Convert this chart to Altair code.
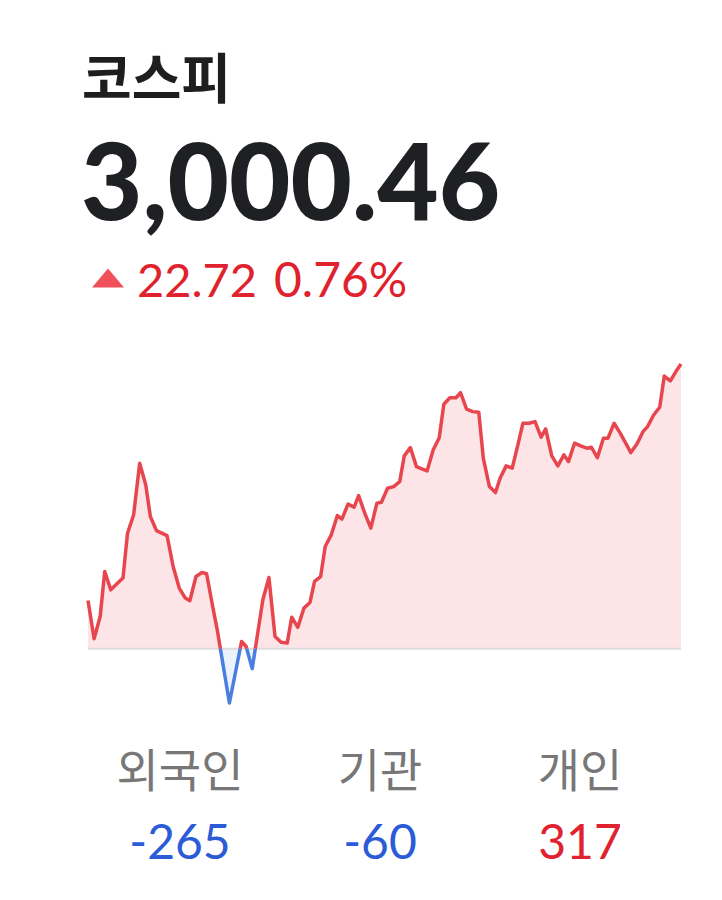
import altair as alt
import pandas as pd

# ---- data ----
PREV_CLOSE = 2977.74
LAST = 3000.46
CHANGE = "22.72"
CHANGE_PCT = "0.76%"
TITLE = "코스피"
PRICE = "3,000.46"

minutes = [0, 4, 8, 11, 15, 19, 23, 26, 30, 34, 38, 41, 45, 52, 56, 60, 64, 67, 71, 75,
           78, 82, 85, 93, 101, 104, 108, 115, 119, 123, 127, 131, 134, 138, 142, 146, 149,
           153, 156, 160, 164, 167, 171, 175, 178, 182, 186, 190, 193, 197, 201, 205, 208,
           212, 216, 220, 223, 227, 231, 234, 238, 242, 245, 249, 253, 257, 260, 264, 268,
           271, 275, 279, 283, 286, 290, 294, 298, 301, 305, 309, 313, 316, 320, 324, 328,
           331, 335, 339, 342, 346, 350, 354, 357, 361, 365, 368, 372, 376, 379, 383, 387, 390]
index_vals = [2981.59, 2978.54, 2980.31, 2983.90, 2982.44, 2982.92, 2983.38, 2986.96, 2988.42,
              2992.54, 2990.81, 2988.29, 2987.17, 2986.77, 2984.30, 2982.58, 2981.78, 2981.57,
              2983.50, 2983.82, 2983.72, 2981.11, 2979.25, 2973.41, 2978.32, 2977.92, 2976.15,
              2981.65, 2983.42, 2978.72, 2978.26, 2978.19, 2980.25, 2979.45, 2980.98, 2981.43,
              2983.11, 2983.50, 2985.90, 2986.83, 2988.37, 2988.08, 2989.28, 2989.04, 2989.96,
              2988.56, 2987.36, 2989.36, 2989.43, 2990.55, 2990.68, 2991.08, 2993.13, 2993.79,
              2992.27, 2992.07, 2991.93, 2993.60, 2994.58, 2997.25, 2997.77, 2997.77, 2998.17,
              2996.85, 2996.66, 2996.61, 2992.93, 2990.68, 2990.20, 2991.35, 2992.33, 2992.15,
              2994.14, 2995.73, 2995.73, 2995.86, 2994.62, 2995.28, 2993.13, 2992.33, 2993.21,
              2992.67, 2994.14, 2993.92, 2993.74, 2993.82, 2992.99, 2994.54, 2994.54, 2995.73,
              2994.94, 2994.06, 2993.39, 2994.08, 2995.06, 2995.46, 2996.39, 2997.01, 2999.50,
              2999.11, 2999.93, 3000.46]

investors = ["외국인", "기관", "개인"]
net_buy = [-265, -60, 317]

# ---- split the series into runs above / below the previous close ----
rows = []
seg = 0
for i in range(len(minutes)):
    side = "up" if index_vals[i] >= PREV_CLOSE else "down"
    if i > 0:
        pside = "up" if index_vals[i - 1] >= PREV_CLOSE else "down"
        if side != pside:
            t0, t1 = minutes[i - 1], minutes[i]
            v0, v1 = index_vals[i - 1], index_vals[i]
            tc = t0 + (t1 - t0) * (PREV_CLOSE - v0) / (v1 - v0)
            rows.append(dict(t=tc, v=PREV_CLOSE, seg=seg, side=pside))
            seg += 1
            rows.append(dict(t=tc, v=PREV_CLOSE, seg=seg, side=side))
    rows.append(dict(t=minutes[i], v=index_vals[i], seg=seg, side=side))
df = pd.DataFrame(rows)
df["lside"] = df["side"]

W, H = 593, 339
xs = alt.Scale(domain=[0, 390], nice=False, zero=False)
ys = alt.Scale(domain=[min(index_vals), max(index_vals)], nice=False, zero=False)

X = alt.X("t:Q", scale=xs, axis=None)
Y = alt.Y("v:Q", scale=ys, axis=None)

area = alt.Chart(df).mark_area(opacity=1, interpolate="linear").encode(
    x=X, y=Y, y2=alt.datum(PREV_CLOSE),
    fill=alt.Fill("side:N", scale=alt.Scale(domain=["up", "down"], range=["#fde4e7", "#edf3fd"]), legend=None),
    detail="seg:N",
)

base_rule = alt.Chart(pd.DataFrame({"b": [PREV_CLOSE]})).mark_rule(color="#dcdcdc", strokeWidth=2).encode(
    y=alt.Y("b:Q", scale=ys, axis=None), x=alt.value(0), x2=alt.value(W)
)

line = alt.Chart(df).mark_line(strokeWidth=3.5, strokeJoin="round").encode(
    x=X, y=Y,
    stroke=alt.Stroke("lside:N", scale=alt.Scale(domain=["up", "down"], range=["#e8464f", "#4a7ee0"]), legend=None),
    detail="seg:N",
)


def txt(label, x, y, size, color, font, weight="normal", align="left", baseline="alphabetic"):
    return alt.Chart(pd.DataFrame({"s": [label]})).mark_text(
        align=align, baseline=baseline, fontSize=size, font=font, fontWeight=weight, color=color
    ).encode(text="s:N", x=alt.value(x), y=alt.value(y))


layers = [area, base_rule, line]
layers.append(txt(TITLE, -6, -265, 54, "#1e1e1e", "Noto Sans CJK KR", "bold"))
layers.append(txt(PRICE, -7, -144, 106, "#1f2023", "Lato", 900))
tri = alt.Chart(pd.DataFrame({"s": [1]})).mark_point(
    shape="M-1,0.6L1,0.6L0,-0.6Z", filled=True, size=1024, color="#f0505a", opacity=1
).encode(x=alt.value(20), y=alt.value(-86))
layers.append(tri)
layers.append(txt(CHANGE, 49, -67, 47, "#e0222e", "Lato"))
layers.append(txt(CHANGE_PCT, 186, -67, 48, "#e0222e", "Lato"))

centers = [92, 292, 492]
for name, val, cx in zip(investors, net_buy, centers):
    layers.append(txt(name, cx, 423, 46, "#777777", "Noto Sans CJK KR", align="center"))
    layers.append(txt(str(val), cx, 495, 48, "#2b5bd7" if val < 0 else "#e0222e", "Lato", align="center"))

chart = alt.layer(*layers).resolve_scale(fill="independent", stroke="independent").properties(
    width=W, height=H,
    autosize=alt.AutoSizeParams(type="none"),
    padding={"left": 80, "top": 356, "right": 33, "bottom": 180},
    background="white",
).configure_view(stroke=None)

chart.save("out.html", embed_options={"renderer": "svg", "actions": False})
